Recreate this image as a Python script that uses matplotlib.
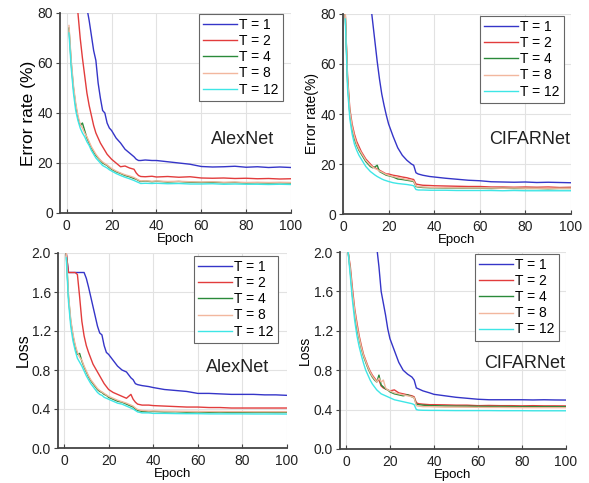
import numpy as np
import matplotlib
matplotlib.use("Agg")
import matplotlib.pyplot as plt

plt.rcParams["font.family"] = ["Liberation Sans", "DejaVu Sans"]

epochs = [1, 2, 3, 4, 5, 6, 7, 8, 9, 10, 11, 12, 13, 14, 15, 16, 17, 18, 19, 20,
          22, 24, 26, 28, 30, 31, 32, 33, 35, 38, 40,
          45, 50, 55, 60, 65, 70, 75, 80, 85, 90, 95, 100]
labels = ["T = 1", "T = 2", "T = 4", "T = 8", "T = 12"]
colors = ["#3535c8", "#e23c3c", "#2a8a3a", "#f2b79e", "#3ee6e6"]

# AlexNet error rate (%)
alex_err_t1 = [150, 140, 130, 120, 110, 100, 95, 88, 82, 77, 71, 65, 61, 52, 46, 41, 40, 36, 34, 33,
               30, 28, 25.5, 24, 22.5, 21.5, 21, 21, 21.2, 21, 21,
               20.5, 20, 19.5, 18.6, 18.4, 18.5, 18.7, 18.3, 18.5, 18.2, 18.4, 18.2]
alex_err_t2 = [150, 130, 110, 95, 80, 70, 62, 55, 48, 43, 39, 35, 32, 30, 28, 26.5, 25, 23.5, 22.5, 21.5,
               20, 18.5, 18.8, 18, 17.5, 16, 15, 14.6, 14.5, 14.7, 14.4,
               14.6, 14.3, 14.5, 14, 13.9, 14, 13.8, 13.9, 13.7, 13.8, 13.6, 13.7]
alex_err_t4 = [74, 60, 50, 43, 38, 35, 36, 33, 30, 28, 26, 24.5, 23, 22, 21, 20, 19.5, 19, 18.2, 17.5,
               16.5, 15.8, 15, 14.5, 13.8, 13.5, 13, 12.6, 12.8, 12.5, 12.7,
               12.4, 12.6, 12.3, 12.2, 12.3, 12.1, 12.2, 12, 12.1, 12, 12.1, 12]
alex_err_t8 = [75, 61, 51, 44, 39, 35.5, 34, 32, 30.5, 28.5, 26.5, 25, 23.5, 22.3, 21.2, 20.4, 19.8, 19.2, 18.5, 17.8,
               16.8, 16, 15.3, 14.8, 14.2, 13.7, 13.2, 12.8, 12.9, 12.7, 12.8,
               12.6, 12.7, 12.5, 12.4, 12.5, 12.3, 12.4, 12.2, 12.3, 12.2, 12.3, 12.2]
alex_err_t12 = [72, 58, 48, 41, 37, 34, 32, 30.5, 28.5, 27, 25, 23.5, 22, 21, 20, 19, 18.5, 18, 17.3, 16.8,
                15.8, 15, 14.3, 13.7, 13, 12.6, 12.2, 11.8, 11.9, 11.8, 11.9,
                11.7, 11.8, 11.6, 11.6, 11.7, 11.5, 11.6, 11.5, 11.5, 11.4, 11.5, 11.4]

# CIFARNet error rate (%)
cifar_err_t1 = [300, 260, 230, 200, 180, 160, 145, 130, 115, 104, 92, 85, 77, 69, 61, 54, 48, 43.5, 39.5, 36,
                31, 26.5, 23.5, 21.5, 20, 19.5, 16.5, 16, 15.5, 15, 14.8,
                14.3, 13.9, 13.5, 13.3, 12.9, 12.8, 12.7, 12.8, 12.6, 12.7, 12.6, 12.5]
cifar_err_t2 = [80, 55, 42, 36, 32, 29, 27, 25, 23.5, 22, 21, 20, 19, 18.5, 18, 17.5, 17, 16.5, 16, 16,
                15.5, 15.2, 14.8, 14.5, 14, 13.8, 12, 11.8, 11.5, 11.4, 11.3,
                11.2, 11.1, 11, 11, 10.8, 10.8, 10.7, 10.8, 10.7, 10.8, 10.6, 10.7]
cifar_err_t4 = [80, 53, 40, 34, 30, 27.5, 25.5, 24, 22.5, 21, 20, 19, 18.5, 18.8, 19.5, 17, 16.5, 16, 15.5, 15.3,
                14.8, 14, 13.8, 13.5, 13.2, 13, 11, 10.8, 10.6, 10.5, 10.5,
                10.4, 10.4, 10.3, 10.3, 10.2, 10.3, 10.2, 10.2, 10.2, 10.1, 10.2, 10.2]
cifar_err_t8 = [80, 54, 41, 35, 31, 28, 26, 24.5, 23, 21.5, 20.5, 19.5, 18.8, 18.2, 17.8, 17.2, 16.8, 16.3, 15.8, 15.5,
                15, 14.6, 14.2, 13.8, 13.5, 13.2, 11.2, 11, 10.8, 10.7, 10.6,
                10.5, 10.5, 10.4, 10.4, 10.4, 10.3, 10.4, 10.3, 10.3, 10.3, 10.3, 10.3]
cifar_err_t12 = [78, 50, 38, 32, 28, 25.5, 23.5, 22, 20.5, 19, 18, 17, 16.3, 15.6, 15, 14.5, 14, 13.6, 13.3, 13,
                 12.5, 12.2, 12, 11.8, 11.5, 11.3, 9.8, 9.6, 9.6, 9.5, 9.5,
                 9.5, 9.4, 9.4, 9.4, 9.4, 9.3, 9.4, 9.3, 9.3, 9.3, 9.3, 9.3]

# AlexNet loss
alex_loss_t1 = [2.0, 1.8, 1.8, 1.8, 1.8, 1.8, 1.8, 1.8, 1.8, 1.74, 1.65, 1.55, 1.45, 1.35, 1.25, 1.18, 1.16, 1.05, 0.98, 0.96,
                0.9, 0.84, 0.8, 0.78, 0.72, 0.7, 0.66, 0.65, 0.64, 0.63, 0.62,
                0.6, 0.59, 0.58, 0.56, 0.56, 0.555, 0.55, 0.55, 0.55, 0.545, 0.545, 0.54]
alex_loss_t2 = [2.0, 1.8, 1.8, 1.8, 1.8, 1.78, 1.55, 1.3, 1.15, 1.05, 0.98, 0.92, 0.86, 0.82, 0.78, 0.74, 0.7, 0.66, 0.63, 0.6,
                0.57, 0.55, 0.53, 0.51, 0.55, 0.5, 0.47, 0.45, 0.44, 0.44, 0.435,
                0.43, 0.425, 0.42, 0.42, 0.415, 0.415, 0.41, 0.41, 0.41, 0.41, 0.41, 0.41]
alex_loss_t4 = [2.0, 1.55, 1.3, 1.15, 1.04, 0.96, 0.97, 0.89, 0.83, 0.78, 0.73, 0.69, 0.66, 0.63, 0.6, 0.58, 0.57, 0.55, 0.54, 0.52,
                0.5, 0.48, 0.47, 0.45, 0.43, 0.42, 0.4, 0.385, 0.375, 0.37, 0.375,
                0.37, 0.372, 0.368, 0.37, 0.366, 0.368, 0.365, 0.366, 0.365, 0.366, 0.364, 0.365]
alex_loss_t8 = [2.0, 1.57, 1.32, 1.17, 1.06, 0.98, 0.93, 0.9, 0.84, 0.79, 0.74, 0.7, 0.67, 0.64, 0.61, 0.59, 0.575, 0.56, 0.545, 0.53,
                0.51, 0.49, 0.475, 0.46, 0.44, 0.43, 0.41, 0.395, 0.385, 0.38, 0.38,
                0.378, 0.377, 0.376, 0.375, 0.374, 0.374, 0.373, 0.373, 0.372, 0.372, 0.372, 0.372]
alex_loss_t12 = [1.95, 1.5, 1.25, 1.1, 1.0, 0.92, 0.88, 0.84, 0.79, 0.74, 0.7, 0.66, 0.63, 0.6, 0.57, 0.55, 0.54, 0.52, 0.51, 0.5,
                 0.48, 0.46, 0.45, 0.43, 0.41, 0.4, 0.385, 0.37, 0.36, 0.36, 0.355,
                 0.355, 0.353, 0.352, 0.352, 0.35, 0.35, 0.35, 0.35, 0.349, 0.349, 0.349, 0.348]

# CIFARNet loss
cifar_loss_t1 = [5, 4.6, 4.2, 3.9, 3.6, 3.4, 3.2, 3.0, 2.8, 2.6, 2.45, 2.3, 2.15, 2.05, 1.85, 1.6, 1.48, 1.36, 1.22, 1.12,
                 1.0, 0.88, 0.8, 0.76, 0.73, 0.7, 0.62, 0.61, 0.59, 0.57, 0.555,
                 0.54, 0.525, 0.515, 0.505, 0.5, 0.5, 0.5, 0.5, 0.498, 0.5, 0.498, 0.497]
cifar_loss_t2 = [2.0, 1.85, 1.62, 1.42, 1.28, 1.15, 1.05, 0.96, 0.9, 0.84, 0.79, 0.75, 0.72, 0.69, 0.7, 0.64, 0.62, 0.61, 0.6, 0.59,
                 0.6, 0.57, 0.56, 0.55, 0.54, 0.53, 0.47, 0.46, 0.455, 0.45, 0.45,
                 0.448, 0.445, 0.445, 0.44, 0.442, 0.44, 0.44, 0.438, 0.44, 0.438, 0.438, 0.437]
cifar_loss_t4 = [2.0, 1.8, 1.55, 1.38, 1.22, 1.12, 1.02, 0.94, 0.88, 0.82, 0.77, 0.73, 0.7, 0.68, 0.75, 0.65, 0.63, 0.61, 0.6, 0.58,
                 0.56, 0.55, 0.54, 0.55, 0.53, 0.52, 0.455, 0.45, 0.445, 0.44, 0.44,
                 0.437, 0.435, 0.435, 0.433, 0.432, 0.432, 0.431, 0.43, 0.43, 0.43, 0.43, 0.43]
cifar_loss_t8 = [2.0, 1.82, 1.58, 1.4, 1.25, 1.13, 1.03, 0.95, 0.89, 0.83, 0.78, 0.74, 0.71, 0.68, 0.72, 0.68, 0.7, 0.62, 0.6, 0.59,
                 0.57, 0.56, 0.55, 0.54, 0.53, 0.52, 0.44, 0.435, 0.43, 0.43, 0.428,
                 0.425, 0.425, 0.424, 0.423, 0.422, 0.422, 0.421, 0.42, 0.42, 0.42, 0.42, 0.42]
cifar_loss_t12 = [2.0, 1.75, 1.5, 1.3, 1.15, 1.04, 0.95, 0.87, 0.8, 0.75, 0.7, 0.66, 0.63, 0.6, 0.58, 0.56, 0.55, 0.54, 0.53, 0.52,
                  0.5, 0.49, 0.48, 0.47, 0.46, 0.45, 0.4, 0.395, 0.393, 0.392, 0.392,
                  0.391, 0.39, 0.39, 0.39, 0.39, 0.389, 0.389, 0.389, 0.388, 0.388, 0.388, 0.388]

W, H = 589, 483
fig = plt.figure(figsize=(W / 100, H / 100), dpi=100)


def px_axes(x0, y0, x1, y1):
    return fig.add_axes([x0 / W, 1 - y1 / H, (x1 - x0) / W, (y1 - y0) / H])


panels = [
    # rect, series, ylim, yticks, ylabel, ylabel size, xlim, name, name pos, legend box corner
    ((60, 13, 291, 213), [alex_err_t1, alex_err_t2, alex_err_t4, alex_err_t8, alex_err_t12],
     (0, 80), [0, 20, 40, 60, 80], "Error rate (%)", 12.5, (-3, 100), "AlexNet", (243, 140), (283, 14)),
    ((343, 14, 571, 214), [cifar_err_t1, cifar_err_t2, cifar_err_t4, cifar_err_t8, cifar_err_t12],
     (0, 80), [0, 20, 40, 60, 80], "Error rate(%)", 10, (0, 100), "CIFARNet", (530, 140), (564, 16)),
    ((58, 253, 287, 448), [alex_loss_t1, alex_loss_t2, alex_loss_t4, alex_loss_t8, alex_loss_t12],
     (0, 2.0), [0.0, 0.4, 0.8, 1.2, 1.6, 2.0], "Loss", 11.5, (-2.7, 100), "AlexNet", (238, 368), (278, 256)),
    ((340, 252, 566, 449), [cifar_loss_t1, cifar_loss_t2, cifar_loss_t4, cifar_loss_t8, cifar_loss_t12],
     (0, 2.0), [0.0, 0.4, 0.8, 1.2, 1.6, 2.0], "Loss", 10, (-2.7, 100), "CIFARNet", (525, 363), (559, 254)),
]

for rect, series, ylim, yticks, ylabel, ylsize, xlim, name, npos, lpos in panels:
    ax = px_axes(*rect)
    for vals, lab, col in zip(series, labels, colors):
        ax.plot(epochs, vals, color=col, lw=1.0, label=lab)
    ax.set_xlim(*xlim)
    ax.set_ylim(*ylim)
    ax.set_xticks([0, 20, 40, 60, 80, 100])
    ax.set_yticks(yticks)
    if ylim[1] == 2.0:
        ax.set_yticklabels(["%.1f" % v for v in yticks])
    ax.grid(True, color="#e2e2e2", lw=0.8)
    ax.set_axisbelow(True)
    for s in ["top", "right"]:
        ax.spines[s].set_visible(False)
    for s in ["left", "bottom"]:
        ax.spines[s].set_color("#444444")
        ax.spines[s].set_linewidth(1.3)
    ax.tick_params(length=3, width=0.8, colors="#444444", labelcolor="#222222",
                   labelsize=10, pad=3)
    ax.tick_params(axis="x", direction="in", pad=4)
    ax.tick_params(axis="y", direction="out", pad=2)
    ax.set_xlabel("Epoch", fontsize=9.5, labelpad=0)
    ax.set_ylabel(ylabel, fontsize=ylsize, labelpad=1)
    fig.text(npos[0] / W, 1 - npos[1] / H, name, fontsize=13, ha="center", va="center", color="#222222")
    leg = ax.legend(loc="upper right", bbox_to_anchor=(lpos[0] / W, 1 - lpos[1] / H),
                    bbox_transform=fig.transFigure, fontsize=10, handlelength=2.4,
                    labelspacing=0.15, borderpad=0.3, handletextpad=0.2, borderaxespad=0,
                    fancybox=False, frameon=True, framealpha=1)
    leg.get_frame().set_edgecolor("#666666")
    leg.get_frame().set_linewidth(0.8)

fig.savefig("out.png", dpi=100)
